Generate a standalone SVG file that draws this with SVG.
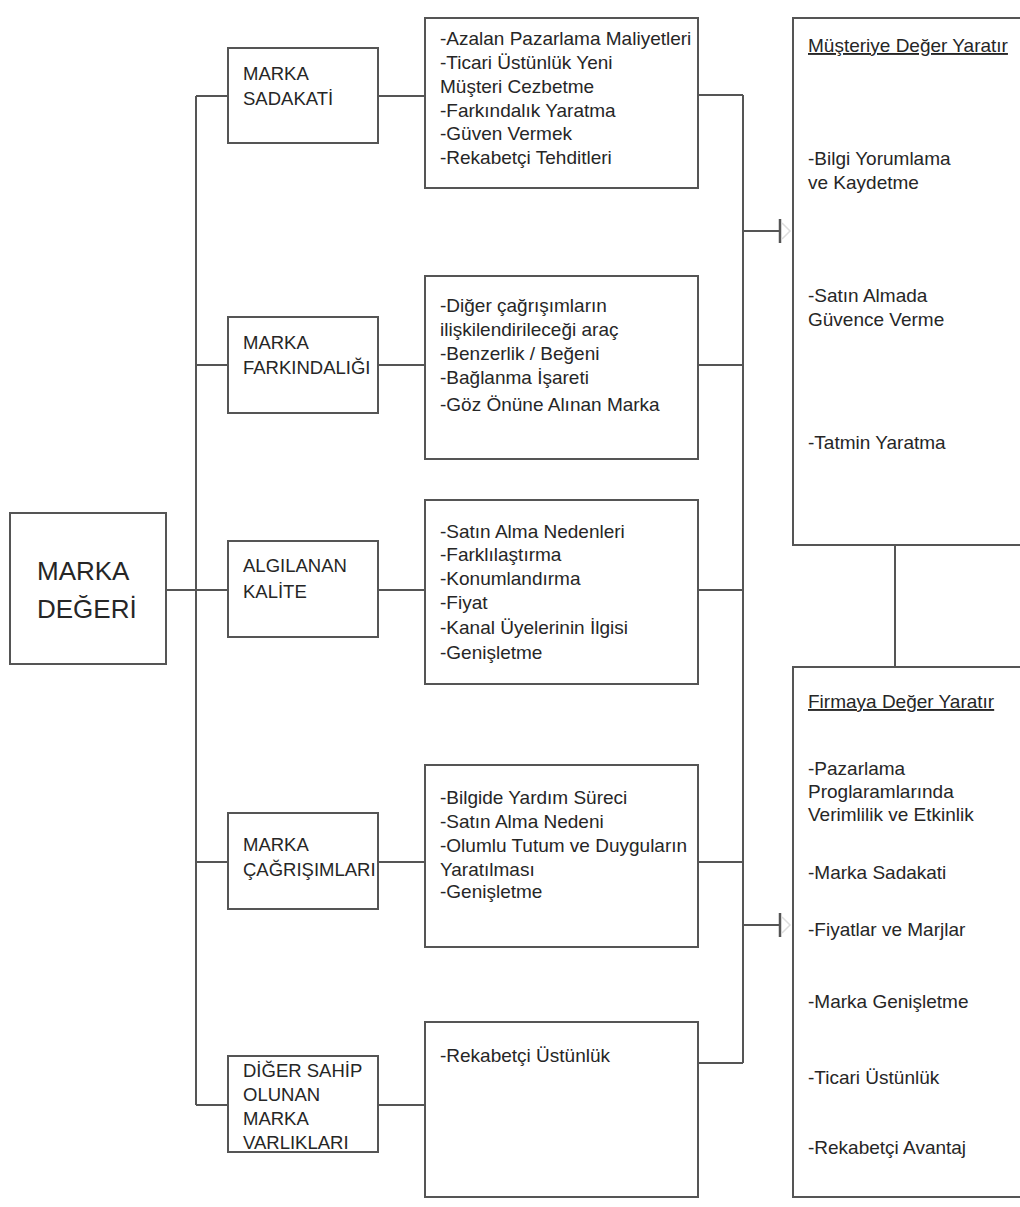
<svg xmlns="http://www.w3.org/2000/svg" width="1020" height="1207" viewBox="0 0 1020 1207">
  <style>
    .box { fill: #ffffff; stroke: #555555; stroke-width: 2; }
    .wire { fill: none; stroke: #555555; stroke-width: 2; }
    .t { font-family: "Liberation Sans", Arial, sans-serif; fill: #262626; }
    .title { font-size: 18.5px; }
    .item { font-size: 19px; }
    .big { font-size: 26px; }
    .u { text-decoration: underline; }
  </style>
  <defs>
    <marker id="tee" markerUnits="userSpaceOnUse" markerWidth="16" markerHeight="30" refX="2" refY="15" orient="auto">
      <line x1="2" y1="3" x2="2" y2="27" stroke="#555555" stroke-width="2.5"/>
      <polyline points="4,7 12,15 4,23" fill="none" stroke="#dddddd" stroke-width="1.5"/>
    </marker>
  </defs>

  <rect width="1020" height="1207" fill="#ffffff"/>

  <!-- connectors -->
  <g id="connectors">
    <line class="wire" x1="166" y1="590" x2="196" y2="590"/>
    <line class="wire" x1="196" y1="96" x2="196" y2="1105"/>
    <line class="wire" x1="196" y1="96" x2="228" y2="96"/>
    <line class="wire" x1="196" y1="365" x2="228" y2="365"/>
    <line class="wire" x1="196" y1="590" x2="228" y2="590"/>
    <line class="wire" x1="196" y1="862" x2="228" y2="862"/>
    <line class="wire" x1="196" y1="1105" x2="228" y2="1105"/>

    <line class="wire" x1="378" y1="96" x2="425" y2="96"/>
    <line class="wire" x1="378" y1="365" x2="425" y2="365"/>
    <line class="wire" x1="378" y1="590" x2="425" y2="590"/>
    <line class="wire" x1="378" y1="862" x2="425" y2="862"/>
    <line class="wire" x1="378" y1="1105" x2="425" y2="1105"/>

    <line class="wire" x1="698" y1="95" x2="743" y2="95"/>
    <line class="wire" x1="698" y1="365" x2="743" y2="365"/>
    <line class="wire" x1="698" y1="590" x2="743" y2="590"/>
    <line class="wire" x1="698" y1="862" x2="743" y2="862"/>
    <line class="wire" x1="698" y1="1063" x2="743" y2="1063"/>
    <line class="wire" x1="743" y1="95" x2="743" y2="1063"/>

    <line class="wire" x1="743" y1="231" x2="780" y2="231" marker-end="url(#tee)"/>
    <line class="wire" x1="743" y1="925" x2="780" y2="925" marker-end="url(#tee)"/>

    <line class="wire" x1="895" y1="545" x2="895" y2="667"/>
  </g>

  <!-- root -->
  <g id="marka-degeri">
    <rect class="box" x="10" y="513" width="156" height="151"/>
    <text class="t big" x="37" y="580">MARKA</text>
    <text class="t big" x="37" y="618">DEĞERİ</text>
  </g>

  <!-- first level -->
  <g id="marka-sadakati">
    <rect class="box" x="228" y="48" width="150" height="95"/>
    <text class="t title" x="243" y="80">MARKA</text>
    <text class="t title" x="243" y="105">SADAKATİ</text>
  </g>
  <g id="marka-farkindaligi">
    <rect class="box" x="228" y="317" width="150" height="96"/>
    <text class="t title" x="243" y="349">MARKA</text>
    <text class="t title" x="243" y="374">FARKINDALIĞI</text>
  </g>
  <g id="algilanan-kalite">
    <rect class="box" x="228" y="541" width="150" height="96"/>
    <text class="t title" x="243" y="572">ALGILANAN</text>
    <text class="t title" x="243" y="598">KALİTE</text>
  </g>
  <g id="marka-cagrisimlari">
    <rect class="box" x="228" y="813" width="150" height="96"/>
    <text class="t title" x="243" y="851">MARKA</text>
    <text class="t title" x="243" y="876">ÇAĞRIŞIMLARI</text>
  </g>
  <g id="diger-varliklar">
    <rect class="box" x="228" y="1056" width="150" height="96"/>
    <text class="t title" x="243" y="1077">DİĞER SAHİP</text>
    <text class="t title" x="243" y="1101">OLUNAN</text>
    <text class="t title" x="243" y="1125">MARKA</text>
    <text class="t title" x="243" y="1149">VARLIKLARI</text>
  </g>

  <!-- second level -->
  <g id="sadakat-etkileri">
    <rect class="box" x="425" y="18" width="273" height="170"/>
    <text class="t item" x="440" y="45">-Azalan Pazarlama Maliyetleri</text>
    <text class="t item" x="440" y="69">-Ticari Üstünlük Yeni</text>
    <text class="t item" x="440" y="93">Müşteri Cezbetme</text>
    <text class="t item" x="440" y="117">-Farkındalık Yaratma</text>
    <text class="t item" x="440" y="140">-Güven Vermek</text>
    <text class="t item" x="440" y="164">-Rekabetçi Tehditleri</text>
  </g>
  <g id="farkindalik-etkileri">
    <rect class="box" x="425" y="276" width="273" height="183"/>
    <text class="t item" x="440" y="312">-Diğer çağrışımların</text>
    <text class="t item" x="440" y="336">ilişkilendirileceği araç</text>
    <text class="t item" x="440" y="360">-Benzerlik / Beğeni</text>
    <text class="t item" x="440" y="384">-Bağlanma İşareti</text>
    <text class="t item" x="440" y="411">-Göz Önüne Alınan Marka</text>
  </g>
  <g id="kalite-etkileri">
    <rect class="box" x="425" y="500" width="273" height="184"/>
    <text class="t item" x="440" y="538">-Satın Alma Nedenleri</text>
    <text class="t item" x="440" y="561">-Farklılaştırma</text>
    <text class="t item" x="440" y="585">-Konumlandırma</text>
    <text class="t item" x="440" y="609">-Fiyat</text>
    <text class="t item" x="440" y="634">-Kanal Üyelerinin İlgisi</text>
    <text class="t item" x="440" y="659">-Genişletme</text>
  </g>
  <g id="cagrisim-etkileri">
    <rect class="box" x="425" y="765" width="273" height="182"/>
    <text class="t item" x="440" y="804">-Bilgide Yardım Süreci</text>
    <text class="t item" x="440" y="828">-Satın Alma Nedeni</text>
    <text class="t item" x="440" y="852">-Olumlu Tutum ve Duyguların</text>
    <text class="t item" x="440" y="876">Yaratılması</text>
    <text class="t item" x="440" y="898">-Genişletme</text>
  </g>
  <g id="diger-etkileri">
    <rect class="box" x="425" y="1022" width="273" height="175"/>
    <text class="t item" x="440" y="1062">-Rekabetçi Üstünlük</text>
  </g>

  <!-- outcomes -->
  <g id="musteriye-deger">
    <rect class="box" x="793" y="18" width="240" height="527"/>
    <text class="t item u" x="808" y="52">Müşteriye Değer Yaratır</text>
    <text class="t item" x="808" y="165">-Bilgi Yorumlama</text>
    <text class="t item" x="808" y="189">ve Kaydetme</text>
    <text class="t item" x="808" y="302">-Satın Almada</text>
    <text class="t item" x="808" y="326">Güvence Verme</text>
    <text class="t item" x="808" y="449">-Tatmin Yaratma</text>
  </g>
  <g id="firmaya-deger">
    <rect class="box" x="793" y="667" width="240" height="530"/>
    <text class="t item u" x="808" y="708">Firmaya Değer Yaratır</text>
    <text class="t item" x="808" y="775">-Pazarlama</text>
    <text class="t item" x="808" y="798">Proglaramlarında</text>
    <text class="t item" x="808" y="821">Verimlilik ve Etkinlik</text>
    <text class="t item" x="808" y="879">-Marka Sadakati</text>
    <text class="t item" x="808" y="936">-Fiyatlar ve Marjlar</text>
    <text class="t item" x="808" y="1008">-Marka Genişletme</text>
    <text class="t item" x="808" y="1084">-Ticari Üstünlük</text>
    <text class="t item" x="808" y="1154">-Rekabetçi Avantaj</text>
  </g>
</svg>
